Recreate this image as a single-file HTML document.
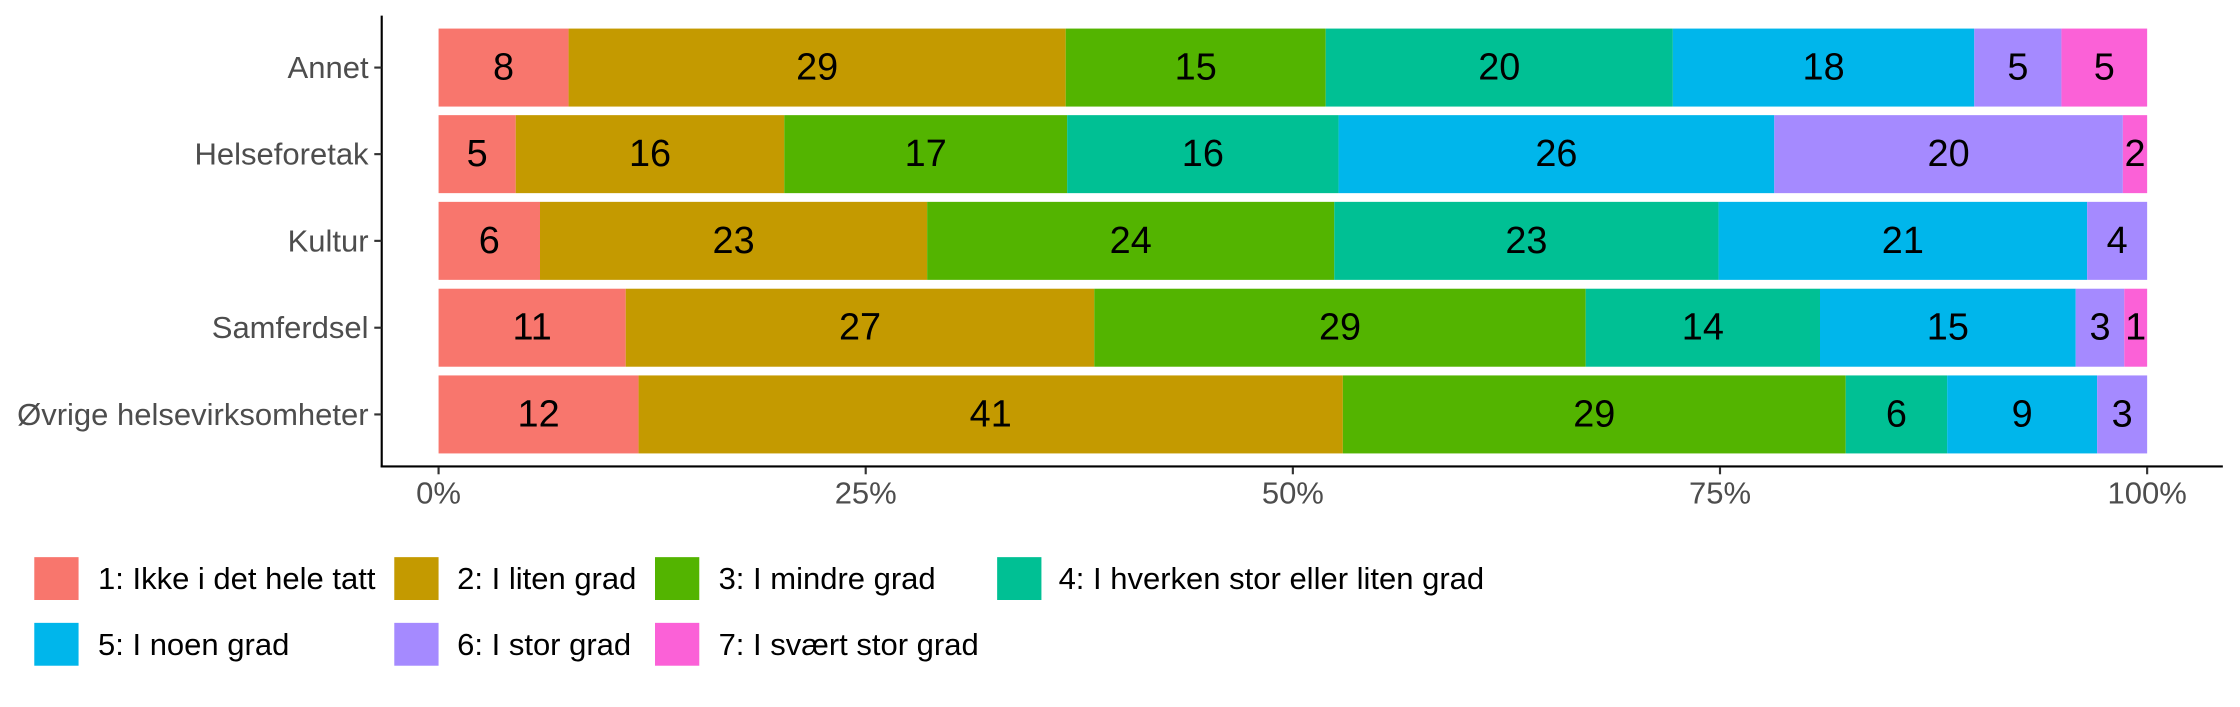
<!DOCTYPE html>
<html><head><meta charset="utf-8"><style>html,body{margin:0;padding:0;background:#fff}svg{display:block}</style></head>
<body>
<svg width="2240" height="707" viewBox="0 0 1568 494.9" xmlns="http://www.w3.org/2000/svg" font-family="Liberation Sans, Arial, sans-serif">
<rect width="1568" height="494.9" fill="#fff"/>
<g>
<rect x="307" y="20" width="91" height="54.6" fill="#F8766D"/>
<rect x="398" y="20" width="348" height="54.6" fill="#C49A00"/>
<rect x="746" y="20" width="182" height="54.6" fill="#53B400"/>
<rect x="928" y="20" width="243" height="54.6" fill="#00C094"/>
<rect x="1171" y="20" width="211" height="54.6" fill="#00B6EB"/>
<rect x="1382" y="20" width="61" height="54.6" fill="#A58AFF"/>
<rect x="1443" y="20" width="60" height="54.6" fill="#FB61D7"/>
</g>
<g>
<rect x="307" y="80.6" width="54" height="54.6" fill="#F8766D"/>
<rect x="361" y="80.6" width="188" height="54.6" fill="#C49A00"/>
<rect x="549" y="80.6" width="198" height="54.6" fill="#53B400"/>
<rect x="747" y="80.6" width="190" height="54.6" fill="#00C094"/>
<rect x="937" y="80.6" width="305" height="54.6" fill="#00B6EB"/>
<rect x="1242" y="80.6" width="244" height="54.6" fill="#A58AFF"/>
<rect x="1486" y="80.6" width="17" height="54.6" fill="#FB61D7"/>
</g>
<g>
<rect x="307" y="141.3" width="71" height="54.6" fill="#F8766D"/>
<rect x="378" y="141.3" width="271" height="54.6" fill="#C49A00"/>
<rect x="649" y="141.3" width="285" height="54.6" fill="#53B400"/>
<rect x="934" y="141.3" width="269" height="54.6" fill="#00C094"/>
<rect x="1203" y="141.3" width="258" height="54.6" fill="#00B6EB"/>
<rect x="1461" y="141.3" width="42" height="54.6" fill="#A58AFF"/>
</g>
<g>
<rect x="307" y="202.1" width="131" height="54.6" fill="#F8766D"/>
<rect x="438" y="202.1" width="328" height="54.6" fill="#C49A00"/>
<rect x="766" y="202.1" width="344" height="54.6" fill="#53B400"/>
<rect x="1110" y="202.1" width="164" height="54.6" fill="#00C094"/>
<rect x="1274" y="202.1" width="179" height="54.6" fill="#00B6EB"/>
<rect x="1453" y="202.1" width="34" height="54.6" fill="#A58AFF"/>
<rect x="1487" y="202.1" width="16" height="54.6" fill="#FB61D7"/>
</g>
<g>
<rect x="307" y="262.8" width="140" height="54.6" fill="#F8766D"/>
<rect x="447" y="262.8" width="493" height="54.6" fill="#C49A00"/>
<rect x="940" y="262.8" width="352" height="54.6" fill="#53B400"/>
<rect x="1292" y="262.8" width="71" height="54.6" fill="#00C094"/>
<rect x="1363" y="262.8" width="105" height="54.6" fill="#00B6EB"/>
<rect x="1468" y="262.8" width="35" height="54.6" fill="#A58AFF"/>
</g>
<g font-size="26.5" fill="#000" text-anchor="middle" dominant-baseline="central">
<text x="352.5" y="47.3">8</text><text x="572" y="47.3">29</text><text x="837" y="47.3">15</text><text x="1049.5" y="47.3">20</text><text x="1276.5" y="47.3">18</text><text x="1412.5" y="47.3">5</text><text x="1473" y="47.3">5</text>
<text x="334" y="107.9">5</text><text x="455" y="107.9">16</text><text x="648" y="107.9">17</text><text x="842" y="107.9">16</text><text x="1089.5" y="107.9">26</text><text x="1364" y="107.9">20</text><text x="1494.5" y="107.9">2</text>
<text x="342.5" y="168.6">6</text><text x="513.5" y="168.6">23</text><text x="791.5" y="168.6">24</text><text x="1068.5" y="168.6">23</text><text x="1332" y="168.6">21</text><text x="1482" y="168.6">4</text>
<text x="372.5" y="229.4">11</text><text x="602" y="229.4">27</text><text x="938" y="229.4">29</text><text x="1192" y="229.4">14</text><text x="1363.5" y="229.4">15</text><text x="1470" y="229.4">3</text><text x="1495" y="229.4">1</text>
<text x="377" y="290.1">12</text><text x="693.5" y="290.1">41</text><text x="1116" y="290.1">29</text><text x="1327.5" y="290.1">6</text><text x="1415.5" y="290.1">9</text><text x="1485.5" y="290.1">3</text>
</g>
<g stroke="#000" stroke-width="1.5" fill="none">
<line x1="267.2" y1="10.9" x2="267.2" y2="327.2"/>
<line x1="266.5" y1="326.5" x2="1556" y2="326.5"/>
</g>
<g stroke="#333" stroke-width="1.5">
<line x1="262" y1="47.3" x2="267" y2="47.3"/><line x1="262" y1="107.9" x2="267" y2="107.9"/><line x1="262" y1="168.6" x2="267" y2="168.6"/><line x1="262" y1="229.4" x2="267" y2="229.4"/><line x1="262" y1="290.1" x2="267" y2="290.1"/>
<line x1="307" y1="327" x2="307" y2="332"/><line x1="606" y1="327" x2="606" y2="332"/><line x1="905" y1="327" x2="905" y2="332"/><line x1="1204" y1="327" x2="1204" y2="332"/><line x1="1503" y1="327" x2="1503" y2="332"/>
</g>
<g font-size="21.7" fill="#4d4d4d" text-anchor="end" dominant-baseline="central">
<text x="258" y="47.3">Annet</text><text x="258" y="107.9">Helseforetak</text><text x="258" y="168.6">Kultur</text><text x="258" y="229.4">Samferdsel</text><text x="258" y="290.1">Øvrige helsevirksomheter</text>
</g>
<g font-size="21.7" fill="#4d4d4d" text-anchor="middle" dominant-baseline="central">
<text x="307" y="345">0%</text><text x="606" y="345">25%</text><text x="905" y="345">50%</text><text x="1204" y="345">75%</text><text x="1503" y="345">100%</text>
</g>
<rect x="24" y="390" width="31" height="30" fill="#F8766D"/>
<rect x="276" y="390" width="31" height="30" fill="#C49A00"/>
<rect x="458.5" y="390" width="31" height="30" fill="#53B400"/>
<rect x="698" y="390" width="31" height="30" fill="#00C094"/>
<rect x="24" y="436" width="31" height="30" fill="#00B6EB"/>
<rect x="276" y="436" width="31" height="30" fill="#A58AFF"/>
<rect x="458.5" y="436" width="31" height="30" fill="#FB61D7"/>
<g font-size="21.7" fill="#000" dominant-baseline="central">
<text x="68.6" y="405">1: Ikke i det hele tatt</text>
<text x="320" y="405">2: I liten grad</text>
<text x="503" y="405">3: I mindre grad</text>
<text x="741" y="405">4: I hverken stor eller liten grad</text>
<text x="68.6" y="451">5: I noen grad</text>
<text x="320" y="451">6: I stor grad</text>
<text x="503" y="451">7: I svært stor grad</text>
</g>
</svg>
</body></html>
